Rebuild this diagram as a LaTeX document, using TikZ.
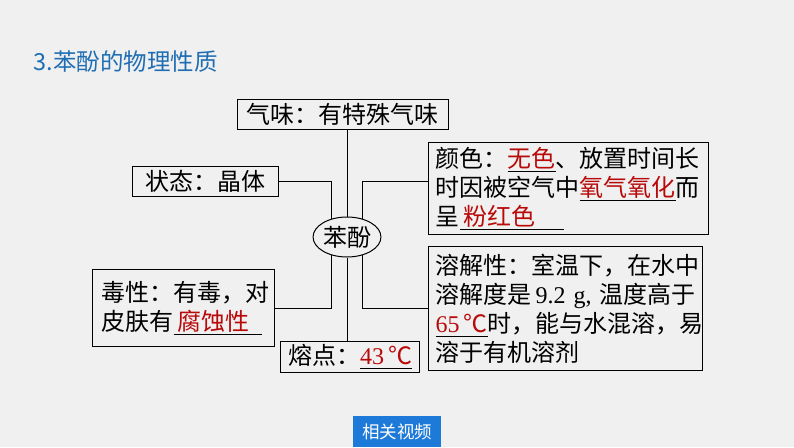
\documentclass[tikz,border=0pt]{standalone}
\usepackage{fontspec}
\setmainfont{Noto Sans CJK SC}
\newfontfamily\lat{Liberation Serif}
\usetikzlibrary{positioning}
\usetikzlibrary{shapes.geometric}
\definecolor{bg}{RGB}{240,240,240}
\definecolor{ansred}{RGB}{185,10,10}
\definecolor{titleblue}{RGB}{31,110,180}
\definecolor{btnblue}{RGB}{30,122,216}
\newcommand\ans[2][0pt]{\leavevmode
    \setbox0=\hbox{\textcolor{ansred}{#2}\hspace{#1}}%
    \rlap{\rule[-4.5pt]{\wd0}{1.2pt}}\box0}
\tikzset{
    x=1pt, y=-1pt,
    every node/.append style={
        font=\fontsize{24}{29}\selectfont
    },
    prop/.style={
        draw,
        line width=1pt,
        inner xsep=7pt,
        align=left
    },
    centre/.style={
        draw,
        ellipse,
        line width=1pt,
        minimum width=64pt,
        minimum height=40pt,
        inner sep=0pt
    },
    link/.style={
        draw,
        line width=1pt
    }
}
\begin{document}
\begin{tikzpicture}
    \fill[bg] (0,0) rectangle (794,447);
    \useasboundingbox (0,0) rectangle (794,447);
    \node[anchor=west, text=titleblue, font=\fontsize{23.5}{27}\selectfont] (title) at (30,62) {3.苯酚的物理性质};
    % centre and the six properties
    \node[centre] (phenol) at (347,237) {苯酚};
    \node[prop, above=87pt of phenol, xshift=-4.5pt, minimum width=211pt, minimum height=30pt, inner sep=0pt] (smell) {气味：有特殊气味};
    \node[prop, minimum width=146pt, minimum height=30pt, inner sep=0pt] (state) at (205,181) {状态：晶体};
    \node[prop, anchor=north west, text width=266pt, minimum height=92pt] (colour) at (428,142)
        {颜色：\ans{无色}、放置时间长\\时因被空气中\ans{氧气氧化}而\\呈\ans[28pt]{\hspace{4pt}粉红色}};
    \node[prop, anchor=north west, text width=260pt, minimum height=124pt] (solub) at (428,246)
        {溶解性：室温下，在水中\\溶解度是\,{\lat 9.2 g,} 温度高于\\\ans{{\lat 65}\,℃}时，能与水混溶，易\\溶于有机溶剂};
    \node[prop, anchor=north west, text width=164pt, minimum height=77pt, inner xsep=9pt] (toxic) at (92,269)
        {毒性：有毒，对\\皮肤有\ans[12pt]{\hspace{4pt}腐蚀性}};
    \node[prop, anchor=north west, minimum width=139pt, minimum height=31pt, inner sep=0pt] (melt) at (280,341)
        {熔点：\ans{{\lat 43}\,℃}};
    % connectors
    \draw[link] (phenol.north) -- (phenol.north |- smell.south);
    \draw[link] (state.east) -| (phenol.130);
    \draw[link] (phenol.50) |- (state.east -| colour.west);
    \draw[link] (toxic.east) -| (phenol.230);
    \draw[link] (phenol.310) |- (solub.west);
    \draw[link] (phenol.south) -- (phenol.south |- melt.north);
    \node[fill=btnblue, text=white, anchor=north west, minimum width=88pt, minimum height=31pt, inner sep=0pt, font=\fontsize{17.5}{20}\selectfont] (video) at (353,416) {相关视频};
\end{tikzpicture}
\end{document}
